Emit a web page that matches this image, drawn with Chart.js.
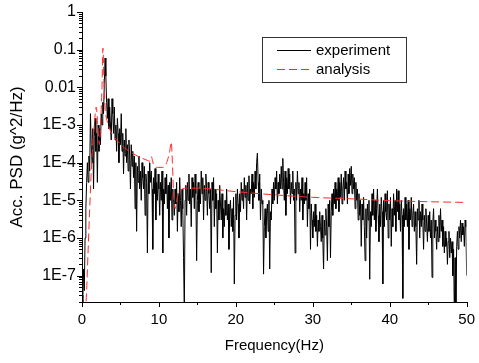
<!DOCTYPE html>
<html>
<head>
<meta charset="utf-8">
<script src="https://cdn.jsdelivr.net/npm/chart.js@4.4.0/dist/chart.umd.min.js"></script>
<style>
  html, body { margin: 0; padding: 0; background: #fff; }
</style>
</head>
<body>
<canvas id="psdChart" width="479" height="363"></canvas>
<script>
// measured PSD, 0.1 Hz resolution, 0..50 Hz (one row per Hz)
const expPsd = [
  3e-8, 2e-8, 1.5e-7, 4e-8, 1e-6, 6e-6, 3e-5, 1e-4, 3e-5, 1.5e-4,
  6e-5, 2e-3, 3e-4, 1e-4, 8e-4, 2e-5, 5e-4, 1.5e-3, 2e-4, 6e-4,
  3e-5, 1e-3, 2e-4, 8e-4, 3e-4, 2e-3, 1e-3, 4e-3, 2e-3, 1.2e-2,
  6e-2, 2e-2, 4e-3, 1.5e-3, 5e-3, 8e-4, 3e-3, 1e-3, 4e-4, 5e-3,
  2e-3, 6e-4, 3e-3, 4e-4, 1e-3, 2e-4, 1.5e-3, 6e-4, 1e-4, 8e-4,
  3e-4, 2e-3, 2e-4, 6e-4, 5e-5, 4e-4, 1.5e-4, 8e-4, 1e-4, 3e-4,
  6e-5, 4e-4, 1.5e-4, 2e-5, 3e-4, 8e-5, 2e-4, 4e-5, 1.5e-4, 6e-6,
  1e-4, 1.5e-6, 8e-5, 3e-5, 1.5e-4, 2e-5, 6e-5, 1e-5, 1e-4, 4e-5,
  2e-5, 8e-5, 4e-6, 5e-5, 3e-5, 4e-7, 6e-5, 1.5e-5, 1e-4, 3e-5,
  6e-5, 2e-5, 5e-7, 4e-5, 1.5e-5, 7e-5, 3e-6, 3e-5, 1e-5, 5e-5,
  2e-5, 4e-6, 3e-5, 1e-5, 6e-5, 4e-7, 2e-5, 8e-6, 4e-5, 1.5e-5,
  5e-5, 6e-6, 2.5e-5, 1e-6, 3e-5, 1e-5, 4e-5, 3e-6, 2e-5, 1.2e-5,
  4e-6, 2e-5, 8e-6, 3e-5, 1.5e-6, 1.5e-5, 5e-6, 4e-5, 1e-5, 2e-6,
  2e-5, 6e-6, 3e-7, 1e-8, 1e-5, 2.5e-5, 4e-6, 3e-5, 1e-5, 5e-5,
  8e-6, 2e-5, 2e-6, 4e-5, 1.2e-5, 3e-5, 6e-6, 5e-5, 1.5e-5, 2.5e-7,
  1e-5, 3e-5, 5e-6, 2e-5, 8e-6, 6e-5, 1.5e-5, 4e-5, 3e-6, 2.5e-5,
  1e-5, 5e-5, 2e-5, 4e-6, 3e-5, 1.5e-5, 6e-6, 2e-5, 1.2e-7, 3e-5,
  1e-5, 4e-5, 2e-6, 2e-5, 6e-6, 1.5e-5, 4e-7, 1e-5, 3e-6, 2.5e-5,
  8e-6, 3e-6, 1.5e-5, 1e-6, 6e-6, 2e-6, 1e-5, 4e-6, 2e-5, 3e-6,
  8e-6, 5e-7, 5e-6, 1e-5, 2e-6, 6e-6, 1.5e-6, 1.2e-5, 6e-8, 4e-6,
  1.5e-5, 3e-6, 2e-5, 8e-6, 1e-6, 1.5e-5, 5e-6, 3e-5, 1e-5, 2e-5,
  6e-6, 4e-5, 1.2e-5, 2.5e-5, 3e-6, 3e-5, 1e-5, 4.5e-5, 8e-6, 2e-5,
  1.5e-5, 5e-5, 6e-6, 3e-5, 1.2e-5, 6e-5, 2e-5, 1e-4, 1.8e-4, 3e-5,
  1e-5, 5e-5, 3e-6, 2e-5, 8e-6, 1e-5, 1.1e-7, 2e-6, 6e-6, 1e-6,
  4e-6, 8e-6, 1.5e-6, 1e-5, 1.5e-7, 5e-6, 3e-6, 2e-5, 8e-6, 3e-5,
  1e-5, 4e-5, 2e-5, 6e-5, 8e-6, 3e-5, 1.5e-5, 5e-5, 2e-5, 8e-5,
  2e-5, 1.3e-4, 3e-5, 1e-5, 6e-5, 4e-6, 4e-5, 1.5e-5, 7e-5, 2e-5,
  5e-5, 8e-6, 3e-5, 1.5e-5, 6e-5, 1e-5, 2e-5, 4e-7, 3e-5, 1e-5,
  6e-5, 1.5e-5, 3e-5, 5e-6, 2e-5, 1e-5, 4e-5, 3e-6, 1.5e-5, 8e-6,
  3e-5, 1e-5, 4e-5, 2e-6, 1.5e-5, 6e-6, 2e-5, 5e-7, 8e-6, 3e-6,
  1e-6, 5e-6, 2e-6, 8e-6, 1.5e-6, 4e-6, 6e-7, 3e-6, 1.5e-6, 5e-6,
  2e-6, 8e-7, 4e-6, 1e-6, 1.5e-7, 3e-6, 1.2e-6, 6e-6, 2e-6, 2.5e-7,
  8e-6, 2e-6, 1e-5, 3e-7, 5e-6, 1.5e-5, 4e-6, 2e-5, 8e-6, 3e-5,
  6e-6, 2e-5, 1e-5, 4e-5, 5e-6, 3e-5, 1.2e-5, 5e-5, 8e-6, 2e-5,
  4e-5, 1e-5, 6e-5, 2e-5, 3e-5, 8e-6, 5e-5, 1.5e-5, 7e-5, 2.5e-5,
  8e-5, 1.5e-5, 5e-5, 2e-5, 4e-5, 6e-6, 3e-5, 1e-5, 2e-5, 3e-6,
  1.5e-5, 4e-6, 1e-5, 6e-7, 8e-6, 3e-6, 1.2e-5, 2e-6, 2.5e-7, 6e-6,
  1e-6, 8e-6, 3e-6, 1e-5, 8e-8, 5e-6, 2e-6, 1.5e-5, 4e-6, 2e-5,
  3e-6, 1e-5, 1.5e-6, 6e-6, 2e-5, 4e-6, 8e-7, 8e-6, 2e-6, 1.2e-5,
  5e-6, 6e-8, 1e-5, 2e-6, 1.5e-5, 5e-6, 3e-6, 1.8e-5, 1e-6, 8e-6,
  3e-6, 1.2e-5, 6e-7, 6e-6, 2e-6, 1.5e-5, 4e-6, 1e-5, 1.5e-6, 2e-5,
  5e-6, 1.8e-5, 3e-6, 8e-6, 1.5e-6, 1e-5, 4e-6, 2.5e-8, 6e-6, 2e-6,
  1.2e-5, 3e-6, 8e-6, 2e-6, 1e-5, 5e-7, 6e-6, 3e-6, 1.2e-5, 2e-6,
  4e-6, 8e-6, 1.5e-6, 5e-6, 2e-6, 2e-7, 6e-6, 3e-6, 1e-5, 1e-6,
  5e-6, 2e-6, 8e-6, 3e-6, 5e-7, 4e-6, 1.5e-6, 6e-6, 2.5e-6, 8e-7,
  4e-6, 1.5e-6, 5e-6, 1e-6, 3e-6, 9e-8, 2.5e-6, 6e-6, 1e-6, 3e-6,
  1.5e-6, 5e-7, 2e-6, 8e-7, 4e-6, 1e-6, 6e-6, 1.5e-6, 3e-6, 6e-7,
  2e-6, 4e-7, 1.5e-6, 6e-7, 1e-6, 2e-7, 8e-7, 1.5e-6, 3e-7, 1e-6,
  4e-7, 8e-7, 1e-7, 5e-7, 8e-9, 3e-7, 1e-8, 6e-7, 1.5e-6, 5e-7,
  2e-6, 1e-6, 3e-6, 8e-7, 2.5e-6, 1.2e-6, 2e-6, 6e-7, 3e-6, 2e-6,
  1e-7
];
const expStep = 0.1;
const expFreq = expPsd.map((v, i) => +(i * expStep).toFixed(1));

// analysis curve
const anaFreq = [0.45, 0.6, 0.8, 1.0, 1.3, 1.6, 1.85, 2.05, 2.25, 2.45, 2.6, 2.72, 2.85, 3.0, 3.3,
  3.7, 4.5, 5.5, 6.5, 7.5, 8.5, 8.8, 9.0, 9.3, 9.8, 10.5, 11.0, 11.4, 11.6, 11.75,
  11.9, 12.1, 12.4, 12.8, 13.5, 15, 20, 25, 30, 35, 40, 45, 50];
const anaPsd = [1e-8, 4e-8, 5e-7, 6e-6, 1.5e-4, 1e-3, 3e-3, 1e-3, 3e-4, 1.5e-3, 1e-2, 1.1e-1, 1.5e-2, 3e-3, 1.2e-3,
  7e-4, 4e-4, 2.5e-4, 1.8e-4, 1.4e-4, 1.15e-4, 1.1e-4, 1.45e-4, 9e-5, 7.5e-5, 7.5e-5, 1e-4, 2e-4, 3.5e-4, 1e-4,
  1.5e-5, 6e-6, 1.2e-5, 1.8e-5, 2.1e-5, 2.1e-5, 1.7e-5, 1.4e-5, 1.2e-5, 1.1e-5, 9.8e-6, 9.2e-6, 8.8e-6];

const seriesNames = ['experiment', 'analysis'];
const yTickValues = [1, 0.1, 0.01, 1e-3, 1e-4, 1e-5, 1e-6, 1e-7];
const yTickLabels = ['1', '0.1', '0.01', '1E-3', '1E-4', '1E-5', '1E-6', '1E-7'];
const xTickValues = [0, 10, 20, 30, 40, 50];

const FONT = "'Liberation Sans', Arial, sans-serif";

// axis tick marks (major + minor) and the boxed legend
const marksAndLegend = {
  id: 'marksAndLegend',
  afterDraw(chart) {
    const ctx = chart.ctx;
    const xs = chart.scales.x, ys = chart.scales.y;
    const area = chart.chartArea;
    ctx.save();
    ctx.strokeStyle = '#000';
    ctx.lineWidth = 1;
    ctx.beginPath();
    for (let f = 0; f <= 50; f += 5) {
      const px = Math.round(xs.getPixelForValue(f)) + 0.5;
      const len = f % 10 === 0 ? 5 : 3;
      ctx.moveTo(px, area.bottom);
      ctx.lineTo(px, area.bottom + len);
    }
    for (let e = -8; e <= 0; e++) {
      for (let m = 1; m <= 9; m++) {
        const v = m * Math.pow(10, e);
        if (v < ys.min * 0.999 || v > ys.max * 1.001) continue;
        const py = Math.round(ys.getPixelForValue(v)) + 0.5;
        const len = m === 1 ? 5 : 3;
        ctx.moveTo(area.left, py);
        ctx.lineTo(area.left - len, py);
      }
    }
    ctx.stroke();

    // legend box
    ctx.strokeStyle = '#333';
    ctx.strokeRect(262.5, 37.5, 144, 45);
    ctx.font = '15px ' + FONT;
    ctx.textBaseline = 'middle';
    ctx.fillStyle = '#000';
    chart.data.datasets.forEach((ds, i) => {
      const yy = 50.5 + i * 19;
      ctx.beginPath();
      ctx.strokeStyle = ds.borderColor;
      ctx.lineWidth = ds.borderWidth;
      ctx.setLineDash(ds.borderDash || []);
      ctx.moveTo(277, yy);
      ctx.lineTo(311, yy);
      ctx.stroke();
      ctx.setLineDash([]);
      ctx.fillText(ds.label, 316, yy);
    });
    ctx.restore();
  }
};

new Chart(document.getElementById('psdChart'), {
  type: 'line',
  data: {
    datasets: [{
      label: seriesNames[0],
      data: expFreq.map((f, i) => ({ x: f, y: expPsd[i] })),
      borderColor: '#000',
      borderWidth: 1,
      pointRadius: 0,
      tension: 0,
      order: 2
    }, {
      label: seriesNames[1],
      data: anaFreq.map((f, i) => ({ x: f, y: anaPsd[i] })),
      borderColor: '#ff2a2a',
      borderWidth: 1,
      borderDash: [8, 4],
      pointRadius: 0,
      cubicInterpolationMode: 'monotone',
      order: 1
    }]
  },
  options: {
    responsive: false,
    animation: false,
    events: [],
    layout: { padding: { top: 12, right: 9, left: 0, bottom: 0 } },
    plugins: { legend: { display: false }, tooltip: { enabled: false } },
    scales: {
      x: {
        type: 'linear',
        min: 0,
        max: 50,
        afterBuildTicks: (s) => { s.ticks = xTickValues.map(v => ({ value: v })); },
        afterFit: (s) => { s.height = 61; },
        grid: { drawOnChartArea: false, color: 'transparent', tickLength: 5 },
        border: { display: true, color: '#000', width: 1 },
        ticks: { color: '#000', padding: 4, maxRotation: 0, font: { family: FONT, size: 15 } },
        title: {
          display: true,
          text: 'Frequency(Hz)',
          color: '#000',
          font: { family: FONT, size: 15 },
          padding: { top: 0, bottom: 8 }
        }
      },
      y: {
        type: 'logarithmic',
        min: 2e-8,
        max: 1,
        afterBuildTicks: (s) => { s.ticks = yTickValues.map(v => ({ value: v })); },
        afterFit: (s) => { s.width = 82; },
        grid: { drawOnChartArea: false, color: 'transparent', tickLength: 5 },
        border: { display: true, color: '#000', width: 1 },
        ticks: {
          color: '#000',
          padding: 1,
          font: { family: FONT, size: 16 },
          callback: (v) => {
            const k = yTickValues.findIndex(t => Math.abs(Math.log10(t) - Math.log10(v)) < 1e-6);
            return k >= 0 ? yTickLabels[k] : '';
          }
        },
        title: {
          display: true,
          text: 'Acc. PSD (g^2/Hz)',
          color: '#000',
          font: { family: FONT, size: 17 },
          padding: { top: 7, bottom: 0 }
        }
      }
    }
  },
  plugins: [marksAndLegend]
});
</script>
</body>
</html>
